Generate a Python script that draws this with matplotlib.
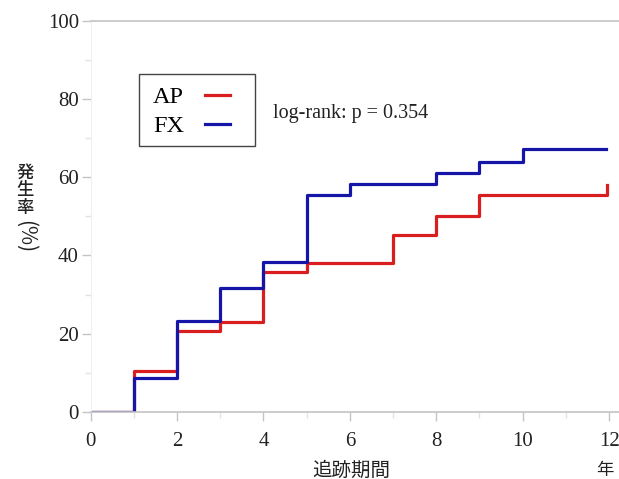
import matplotlib
matplotlib.use('Agg')
import matplotlib.pyplot as plt
from matplotlib.ticker import MultipleLocator
from matplotlib.patches import Rectangle

# data (years, cumulative incidence %)
ap_years = [0, 1, 2, 3, 4, 5, 7, 8, 9, 11.96]
ap_rate = [0, 10.4, 20.8, 23.0, 35.8, 38.1, 45.3, 50.0, 55.4, 57.9]
fx_years = [0, 1, 2, 3, 4, 5, 6, 8, 9, 10, 11.94]
fx_rate = [0, 8.7, 23.2, 31.7, 38.3, 55.4, 58.2, 61.0, 64.0, 67.3, 67.3]
series_labels = ['AP', 'FX']
pvalue_text = 'log-rank: p = 0.354'
xticks = [0, 2, 4, 6, 8, 10, 12]
yticks = [0, 20, 40, 60, 80, 100]

SERIF = 'Liberation Serif'
CJK = ['Noto Sans CJK JP', 'DejaVu Sans']

fig = plt.figure(figsize=(6.19, 4.79), dpi=100)
ax = fig.add_axes([90.7 / 619, 67 / 479, (619 - 90.7) / 619, 391.3 / 479])

ax.step(ap_years, ap_rate, where='post', color='#d81e1e', lw=2.3, label=series_labels[0])
ax.step(fx_years, fx_rate, where='post', color='#1515a8', lw=2.3, label=series_labels[1])

ax.set_xlim(0, 12.23)
ax.set_ylim(0, 100)
ax.set_xticks(xticks)
ax.set_yticks(yticks)
ax.xaxis.set_minor_locator(MultipleLocator(1))
ax.yaxis.set_minor_locator(MultipleLocator(10))

for s in ['top', 'bottom']:
    ax.spines[s].set_color('#c4c4c4')
    ax.spines[s].set_linewidth(1.2)
ax.spines['left'].set_color('#f0f0f0')
ax.spines['right'].set_visible(False)

ax.tick_params(which='major', direction='out', length=6.5, width=1, color='#c4c4c4',
               labelsize=15, pad=2)
ax.tick_params(axis='x', which='major', pad=8)
ax.tick_params(which='minor', direction='out', length=4, width=1, color='#e2e2e2')
for lab in ax.get_xticklabels() + ax.get_yticklabels():
    lab.set_fontfamily(SERIF)
    lab.set_color('#222222')

# legend without its own frame; the box is drawn separately (wider on the right)
leg = ax.legend(loc='upper left', bbox_to_anchor=(0.095, 0.864), borderaxespad=0,
                markerfirst=False, handlelength=1.05, handletextpad=0.85,
                frameon=False, prop={'family': SERIF, 'size': 17.5},
                borderpad=0.5, labelspacing=0.3)
ax.add_patch(Rectangle((0.0914, 0.680), 0.311 - 0.0914, 0.864 - 0.680,
                       transform=ax.transAxes, fill=False, edgecolor='#444444',
                       lw=1.0, zorder=5))

ax.text(0.345, 0.764, pvalue_text, transform=ax.transAxes, va='center', ha='left',
        fontsize=14.5, family=SERIF, color='#222222')

# axis titles (vertical japanese label, one char per line)
for ch, py in zip('発生率', [173, 190.5, 208]):
    fig.text(25 / 619, 1 - py / 479, ch, ha='center', va='center', fontsize=12.5,
             family=CJK, color='#222222', weight='medium')
fig.text(25 / 619, 1 - 237 / 479, '(%)', ha='center', va='center', fontsize=15,
         family=CJK, rotation=270, color='#222222')
fig.text(351 / 619, 1 - 470 / 479, '追跡期間', ha='center', va='center', fontsize=14,
         family=CJK, color='#222222')
fig.text(605 / 619, 1 - 470 / 479, '年', ha='center', va='center', fontsize=12.5,
         family=CJK, color='#222222')

fig.savefig('out.png', dpi=100)
plt.close()
